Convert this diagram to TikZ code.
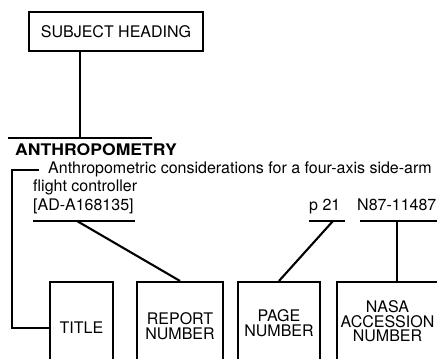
\documentclass[tikz,border=0pt]{standalone}
\usepackage{fontspec}
\setmainfont{TeX Gyre Heros}
\begin{document}
\begin{tikzpicture}[x=1pt,y=-1pt,
  ln/.style={line width=2.1pt},
  boxnode/.style={draw, line width=2.1pt, font=\fontsize{16}{14.5}\selectfont, align=center, inner sep=0pt},
  txt/.style={font=\fontsize{16}{18}\selectfont, inner sep=0pt, anchor=base west},
  kwtxt/.style={txt, font=\fontsize{16}{18}\selectfont\bfseries}]
\useasboundingbox (0,0) rectangle (437,359);
\clip (0,0) rectangle (437,359);
% subject heading
\node[boxnode, minimum width=174pt, minimum height=39pt] (sh) at (116,31.5) {SUBJECT HEADING};
\coordinate (hlL) at (8,138);
\coordinate (hlR) at (152,138);
\coordinate (hlC) at (80,138);
\draw[ln] (hlL) -- (hlR);
\draw[ln] (sh.south -| hlC) -- (hlC);
\node[kwtxt] (kw) at (15,155) {\scalebox{1.1}[1]{ANTHROPOMETRY}};
% citation
\node[txt] (t1) at (48,173) {Anthropometric considerations for a four-axis side-arm};
\node[txt] (t2) at (33,191.5) {flight controller};
\node[txt] (t3) at (33,210.5) {[AD-A168135]};
\node[txt] (pn) at (309,210.5) {p 21};
\node[txt] (acc) at (357,210.5) {N87-11487};
% underlines
\coordinate (adL) at (33,221);
\coordinate (adR) at (135,221);
\coordinate (adC) at (77,221);
\coordinate (pL) at (309,221);
\coordinate (pR) at (345,221);
\coordinate (pC) at (333,221);
\coordinate (nL) at (360,221);
\coordinate (nR) at (440,221);
\coordinate (nC) at (397,221);
\draw[ln] (adL) -- (adR);
\draw[ln] (pL) -- (pR);
\draw[ln] (nL) -- (nR);
% boxes
\node[boxnode, minimum width=63pt, minimum height=92pt] (ttl) at (81.5,328) {TITLE};
\node[boxnode, minimum width=86pt, minimum height=88pt] (rep) at (180,326) {REPORT\\NUMBER};
\node[boxnode, minimum width=82pt, minimum height=82pt] (pg) at (279,323) {PAGE\\NUMBER};
\node[boxnode, minimum width=101pt, minimum height=79pt] (nasa) at (387.5,321.5) {NASA\\ACCESSION\\NUMBER};
% connectors
\draw[ln] (adC) -- (rep.north);
\draw[ln] (pC) -- (pg.north);
\draw[ln] (nC) -- (nasa.north -| nC);
\coordinate (bA) at (39,170);
\coordinate (bB) at (12,170);
\draw[ln] (bA) -- (bB) |- (ttl.west);
\end{tikzpicture}
\end{document}
